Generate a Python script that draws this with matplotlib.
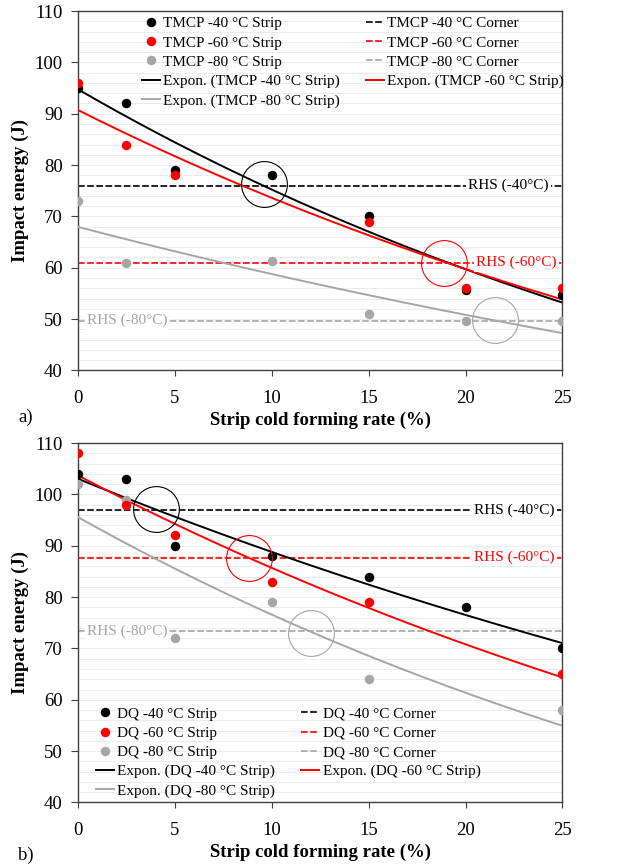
import numpy as np
import matplotlib
matplotlib.use("Agg")
import matplotlib.pyplot as plt
from matplotlib.ticker import MultipleLocator

plt.rcParams["font.family"] = ["Liberation Serif", "DejaVu Serif"]

# ---- data: panel a) TMCP ----
x_tmcp_40 = [0, 2.5, 5, 10, 15, 20, 25]
y_tmcp_40 = [95, 92, 79, 78, 70, 55.7, 54.6]
x_tmcp_60 = [0, 2.5, 5, 15, 20, 25]
y_tmcp_60 = [96, 84, 78, 69, 56, 56]
x_tmcp_80 = [0, 2.5, 10, 15, 20, 25]
y_tmcp_80 = [73, 61, 61.3, 51, 49.7, 49.7]
rhs_tmcp = [76.0, 61.0, 49.7]   # corner values -40, -60, -80

# ---- data: panel b) DQ ----
x_dq_40 = [0, 2.5, 5, 10, 15, 20, 25]
y_dq_40 = [104, 103, 90, 88, 84, 78, 70]
x_dq_60 = [0, 2.5, 5, 10, 15, 25]
y_dq_60 = [108, 98, 92, 83, 79, 65]
x_dq_80 = [0, 2.5, 5, 10, 15, 25]
y_dq_80 = [102, 99, 72, 79, 64, 58]
rhs_dq = [96.9, 87.7, 73.4]

# circled intersections (x, y) for -40, -60, -80
circles_tmcp = [(9.6, 76.3), (18.9, 61.0), (21.5, 49.8)]
circles_dq = [(4.0, 97.1), (8.8, 87.7), (12.0, 73.1)]

temps = ["-40", "-60", "-80"]
colors = ["#000000", "#ff0000", "#a6a6a6"]
xticks = [0, 5, 10, 15, 20, 25]
yticks = [40, 50, 60, 70, 80, 90, 100, 110]


def expon_fit(x, y):
    b, a = np.polyfit(np.array(x, float), np.log(np.array(y, float)), 1)
    xs = np.linspace(0, 25, 200)
    return xs, np.exp(a) * np.exp(b * xs)


def panel(ax, prefix, series, rhs, circles, rhs_pos, leg_loc, leg_anchor):
    ax.set_xlim(0, 25)
    ax.set_ylim(40, 110)
    ax.set_xticks(xticks)
    ax.set_yticks(yticks)
    ax.yaxis.set_minor_locator(MultipleLocator(2))
    ax.grid(True, which="both", axis="y", color="#ececec", lw=0.7, zorder=0)
    ax.set_axisbelow(True)
    for s in ax.spines.values():
        s.set_color("#404040")
        s.set_linewidth(1.0)
    ax.tick_params(axis="y", which="major", direction="out", length=5,
                   labelsize=13.5, color="#404040", pad=6)
    ax.tick_params(axis="x", which="major", direction="out", length=4,
                   labelsize=13.5, color="#404040", pad=10)
    ax.tick_params(axis="y", which="minor", length=0)

    # draw order in the original: grey under black under red
    zord = [4.2, 4.3, 4.1]
    pts, corners, fits = [], [], []
    for (x, y), t, c, z in zip(series, temps, colors, zord):
        h, = ax.plot(x, y, "o", color=c, ms=5.8, zorder=z,
                     label=f"{prefix} {t} °C Strip")
        pts.append(h)
    for r, t, c in zip(rhs, temps, colors):
        h = ax.axhline(r, color=c, lw=1.2, ls=(0, (4, 1.5)), zorder=2,
                       label=f"{prefix} {t} °C Corner")
        corners.append(h)
    for (x, y), t, c in zip(series, temps, colors):
        xs, ys = expon_fit(x, y)
        h, = ax.plot(xs, ys, "-", color=c, lw=1.4, zorder=3,
                     label=f"Expon. ({prefix} {t} °C Strip)")
        fits.append(h)
    for (cx, cy), c in zip(circles, colors):
        ax.plot([cx], [cy], "o", ms=33, mfc="none", mec=c, mew=0.8, zorder=5)
    for r, t, c, (px, ha) in zip(rhs, temps, colors, rhs_pos):
        ax.text(px, r, f"RHS ({t}°C)", color=c, fontsize=11, ha=ha, va="center",
                zorder=6, bbox=dict(facecolor="white", edgecolor="none", pad=1.5))

    handles = pts + fits[0:1] + fits[2:3] + corners + fits[1:2]
    ax.legend(handles=handles, ncol=2, loc=leg_loc, bbox_to_anchor=leg_anchor,
              frameon=False, fontsize=11, handlelength=1.2, handletextpad=0.2,
              columnspacing=1.7, labelspacing=0.36, borderpad=0, borderaxespad=0)
    ax.set_xlabel("Strip cold forming rate (%)", fontsize=13.5, fontweight="bold")
    ax.set_ylabel("Impact energy (J)", fontsize=13.5, fontweight="bold")
    ax.xaxis.set_label_coords(0.5, -0.115)
    ax.yaxis.set_label_coords(-0.102, 0.5)


fig = plt.figure(figsize=(6.29, 8.67), dpi=100)
ax1 = fig.add_axes([0.124, 0.5727, 0.7702, 0.4146])
ax2 = fig.add_axes([0.124, 0.0744, 0.7702, 0.4146])

rhs_pos = [(24.3, "right"), (24.7, "right"), (0.45, "left")]
panel(ax1, "TMCP",
      [(x_tmcp_40, y_tmcp_40), (x_tmcp_60, y_tmcp_60), (x_tmcp_80, y_tmcp_80)],
      rhs_tmcp, circles_tmcp, rhs_pos, "upper left", (0.132, 0.984))
panel(ax2, "DQ",
      [(x_dq_40, y_dq_40), (x_dq_60, y_dq_60), (x_dq_80, y_dq_80)],
      rhs_dq, circles_dq, [(24.6, "right"), (24.6, "right"), (0.45, "left")],
      "lower left", (0.037, 0.013))

fig.text(18 / 629, 1 - 417 / 867, "a)", fontsize=13.5, va="center")
fig.text(18 / 629, 1 - 855 / 867, "b)", fontsize=13.5, va="center")

fig.savefig("out.png", dpi=100)
